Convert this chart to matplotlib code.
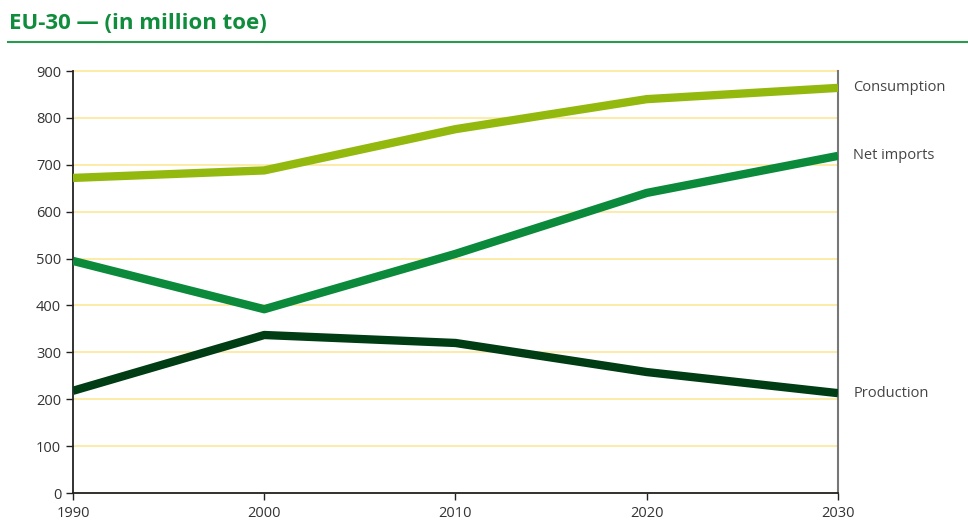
import matplotlib.pyplot as plt
from matplotlib.lines import Line2D

# EU-30 energy balance, million toe
years = [1990, 2000, 2010, 2020, 2030]
consumption = [672, 688, 776, 840, 864]
net_imports = [495, 392, 510, 640, 719]
production = [218, 337, 320, 258, 213]

series_names = ["Consumption", "Net imports", "Production"]
series_colors = ["#93b90f", "#0a8a3a", "#003d14"]

plt.rcParams['font.family'] = ['Open Sans', 'DejaVu Sans']

fig = plt.figure(figsize=(9.68, 5.21), dpi=100)
ax = fig.add_axes([0.0754, 0.0537, 0.7903, 0.81])

for vals, name, col in zip([consumption, net_imports, production], series_names, series_colors):
    ax.plot(years, vals, color=col, lw=6, solid_capstyle='butt', zorder=3)
    ax.text(1.02, vals[-1] / 900, name, transform=ax.transAxes,
            ha='left', va='center', fontsize=10.5, color='#444444')

ax.set_xlim(1990, 2030)
ax.set_ylim(0, 900)
ax.set_xticks(years)
ax.set_yticks(range(0, 901, 100))
ax.grid(axis='y', color='#fde79a', lw=1.2, zorder=0)
for gl in ax.get_ygridlines():
    gl.set_clip_on(False)
ax.set_axisbelow(True)

ax.spines['top'].set_visible(False)
ax.spines['left'].set_color('#222222')
ax.spines['bottom'].set_color('#222222')
ax.spines['right'].set_color('#777777')
ax.spines['left'].set_linewidth(1.3)
ax.spines['bottom'].set_linewidth(1.3)
ax.spines['right'].set_linewidth(1.5)
ax.tick_params(axis='both', direction='out', length=5, width=1, color='#222222',
               labelsize=10.5, labelcolor='#333333')
ax.tick_params(axis='x', pad=4)

# heading with underline rule
fig.text(0.009, 0.955, "EU-30 \u2014 (in million toe)", ha='left', va='center',
         fontsize=16, fontweight='bold', color='#0f8c3c')
fig.add_artist(Line2D([0.008, 1.0], [0.919, 0.919], transform=fig.transFigure,
                      color='#2a9a4f', lw=1.5))

fig.savefig("out.png", dpi=100)
